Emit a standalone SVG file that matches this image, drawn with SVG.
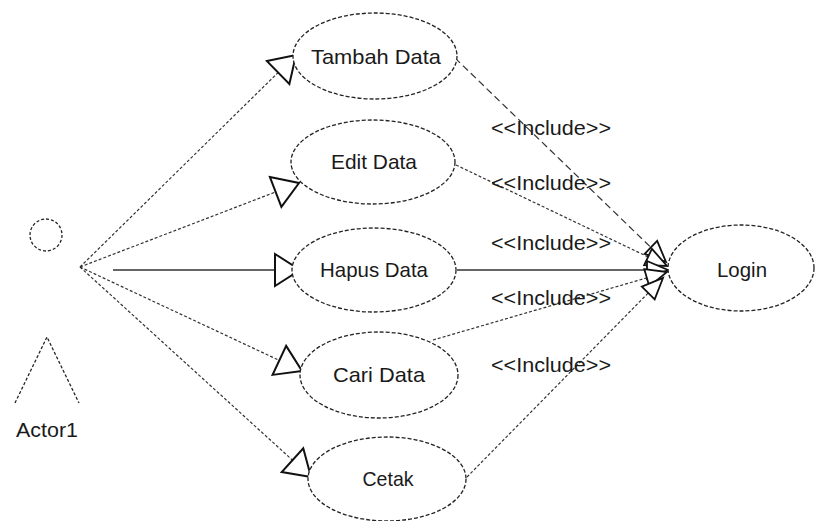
<svg xmlns="http://www.w3.org/2000/svg" width="815" height="521" viewBox="0 0 815 521">
<style>
.uc{fill:#fff;stroke:#222;stroke-width:1.3;stroke-dasharray:4 2}
.t{font-family:"Liberation Sans",Arial,sans-serif;font-size:21px;fill:#1a1a1a;text-anchor:middle}
.as{stroke:#333;stroke-width:1.2;stroke-dasharray:3 2;fill:none}
.inc{stroke:#333;stroke-width:1.2;stroke-dasharray:7 4;fill:none}
.solid{stroke:#333;stroke-width:1.3;fill:none}
</style>
<defs>
<marker id="gen" markerUnits="userSpaceOnUse" markerWidth="30" markerHeight="36" viewBox="0 -18 28 36" refX="26" refY="0" orient="auto">
<path d="M1,-16 L26,0 L1,16 Z" fill="#fff" stroke="#111" stroke-width="2"/>
</marker>
<marker id="op" markerUnits="userSpaceOnUse" markerWidth="26" markerHeight="22" viewBox="0 -11 24 22" refX="22" refY="0" orient="auto">
<path d="M1,-9 L22,0 L1,9 Z" fill="#fff" stroke="#111" stroke-width="1.8"/>
</marker>
</defs>
<rect width="815" height="521" fill="#fff"/>
<g id="connectors">
<line class="as" x1="80" y1="267" x2="296" y2="55" marker-end="url(#gen)"/>
<line class="as" x1="80" y1="267" x2="299" y2="183" marker-end="url(#gen)"/>
<line class="solid" x1="113" y1="270" x2="300" y2="270" marker-end="url(#gen)"/>
<line class="as" x1="80" y1="267" x2="302" y2="371" marker-end="url(#gen)"/>
<line class="as" x1="80" y1="267" x2="311" y2="477" marker-end="url(#gen)"/>
<line class="inc" x1="455" y1="58" x2="666" y2="262" marker-end="url(#op)"/>
<line class="as" x1="456" y1="165" x2="667" y2="266" marker-end="url(#op)"/>
<line class="solid" x1="457" y1="270" x2="668" y2="270" marker-end="url(#op)"/>
<line class="as" x1="433" y1="340" x2="667" y2="272" marker-end="url(#op)"/>
<line class="as" x1="467" y1="477" x2="663" y2="278" marker-end="url(#op)"/>
<text class="t" x="551" y="135" textLength="120" lengthAdjust="spacingAndGlyphs">&lt;&lt;Include&gt;&gt;</text>
<text class="t" x="551" y="190" textLength="120" lengthAdjust="spacingAndGlyphs">&lt;&lt;Include&gt;&gt;</text>
<text class="t" x="551" y="250" textLength="120" lengthAdjust="spacingAndGlyphs">&lt;&lt;Include&gt;&gt;</text>
<text class="t" x="551" y="305" textLength="120" lengthAdjust="spacingAndGlyphs">&lt;&lt;Include&gt;&gt;</text>
<text class="t" x="551" y="372" textLength="120" lengthAdjust="spacingAndGlyphs">&lt;&lt;Include&gt;&gt;</text>
</g>
<g id="actor1">
<circle cx="46" cy="235" r="16" fill="none" stroke="#222" stroke-width="1.3" stroke-dasharray="3 2"/>
<polyline points="15,403 47,337 79,403" fill="none" stroke="#222" stroke-width="1.3" stroke-dasharray="3 2"/>
<text class="t" x="47" y="437" textLength="62" lengthAdjust="spacingAndGlyphs">Actor1</text>
</g>
<g id="tambah">
<ellipse class="uc" cx="375" cy="56" rx="82" ry="43"/>
<text class="t" x="376" y="64" textLength="130" lengthAdjust="spacingAndGlyphs">Tambah Data</text>
</g>
<g id="edit">
<ellipse class="uc" cx="373" cy="162" rx="82" ry="42"/>
<text class="t" x="374" y="169" textLength="86" lengthAdjust="spacingAndGlyphs">Edit Data</text>
</g>
<g id="hapus">
<ellipse class="uc" cx="374" cy="270" rx="82" ry="42"/>
<text class="t" x="374" y="277" textLength="108" lengthAdjust="spacingAndGlyphs">Hapus Data</text>
</g>
<g id="cari">
<ellipse class="uc" cx="379" cy="375" rx="79" ry="43"/>
<text class="t" x="379" y="382" textLength="92" lengthAdjust="spacingAndGlyphs">Cari Data</text>
</g>
<g id="cetak">
<ellipse class="uc" cx="387" cy="479" rx="79" ry="42"/>
<text class="t" x="388" y="486" textLength="51" lengthAdjust="spacingAndGlyphs">Cetak</text>
</g>
<g id="login">
<ellipse class="uc" cx="741" cy="268" rx="73" ry="43"/>
<text class="t" x="742" y="277" textLength="50" lengthAdjust="spacingAndGlyphs">Login</text>
</g>
</svg>
